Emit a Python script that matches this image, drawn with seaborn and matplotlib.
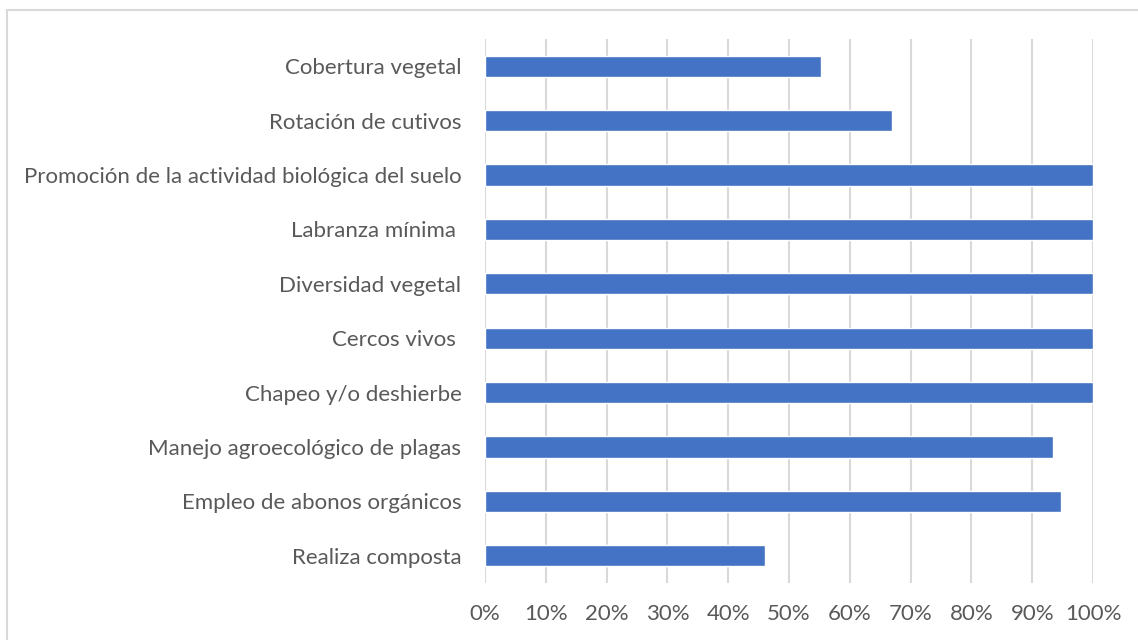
import matplotlib
matplotlib.use("Agg")
import matplotlib.pyplot as plt
from matplotlib.patches import Rectangle
from matplotlib.ticker import PercentFormatter, MultipleLocator
import seaborn as sns
import pandas as pd

practicas = [
    "Cobertura vegetal",
    "Rotación de cutivos",
    "Promoción de la actividad biológica del suelo",
    "Labranza mínima ",
    "Diversidad vegetal",
    "Cercos vivos ",
    "Chapeo y/o deshierbe",
    "Manejo agroecológico de plagas",
    "Empleo de abonos orgánicos",
    "Realiza composta",
]
porcentaje = [0.552, 0.670, 1.0, 1.0, 1.0, 1.0, 1.0, 0.935, 0.948, 0.46]

df = pd.DataFrame({"practica": practicas, "porcentaje": porcentaje})

sns.set_theme(style="white")
plt.rcParams["font.family"] = ["Lato", "DejaVu Sans"]

fig = plt.figure(figsize=(11.38, 6.4), dpi=100)
ax = fig.add_axes([485 / 1138, 57 / 640, 608 / 1138, 544 / 640])

sns.barplot(data=df, y="practica", x="porcentaje", orient="h",
            color="#4472C4", saturation=1, width=0.39, ax=ax, zorder=3)

ax.set_xlim(0, 1)
ax.xaxis.set_major_locator(MultipleLocator(0.1))
ax.xaxis.set_major_formatter(PercentFormatter(1.0, decimals=0))
ax.grid(axis="x", color="#D9D9D9", linewidth=1.5, zorder=0)
ax.set_axisbelow(True)
for s in ax.spines.values():
    s.set_visible(False)
ax.set_xlabel("")
ax.set_ylabel("")
ax.tick_params(axis="both", length=0, labelsize=16, colors="#595959")
ax.tick_params(axis="x", pad=15)
ax.tick_params(axis="y", pad=17)

fig.patches.append(Rectangle((7 / 1138, -0.1), 1.2, (640 - 10) / 640 + 0.1,
                             transform=fig.transFigure, fill=False,
                             edgecolor="#D9D9D9", linewidth=1.5))

fig.savefig("out.png", dpi=100)
